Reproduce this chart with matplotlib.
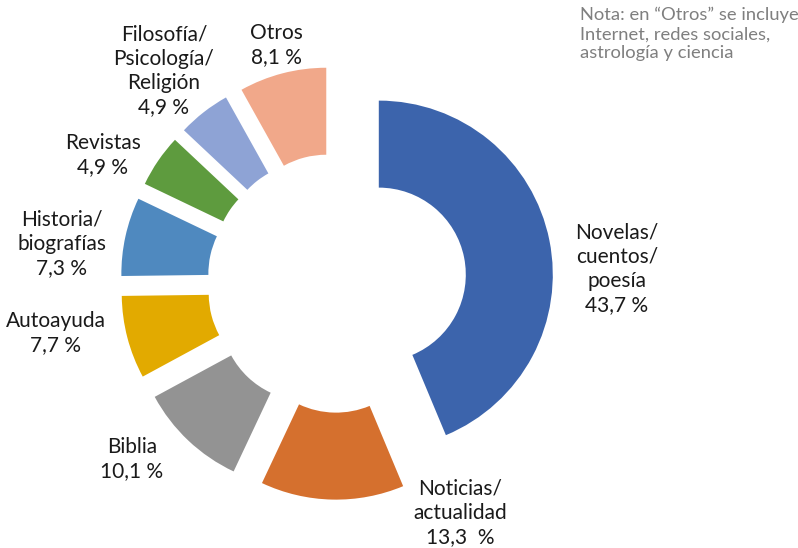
import matplotlib
matplotlib.use("Agg")
import matplotlib.pyplot as plt

# Datos (porcentaje de lectores por tipo de lectura)
categorias = ["Novelas/\ncuentos/\npoesía", "Noticias/\nactualidad", "Biblia",
              "Autoayuda", "Historia/\nbiografías", "Revistas",
              "Filosofía/\nPsicología/\nReligión", "Otros"]
valores = [43.7, 13.3, 10.1, 7.7, 7.3, 4.9, 4.9, 8.1]
etiquetas_pct = ["43,7 %", "13,3  %", "10,1 %", "7,7 %", "7,3 %", "4,9 %", "4,9 %", "8,1 %"]
colores = ["#3C64AC", "#D5702E", "#939393", "#E2AA00",
           "#4F89BF", "#5E9B3E", "#8EA3D5", "#F1A88A"]

nota = "Nota: en \u201cOtros\u201d se incluye\nInternet, redes sociales,\nastrología y ciencia"

# Disposición en píxeles (figura 798x548, centro del anillo y radio)
W, H = 798, 548
CX, CY, R = 337, 283, 174
pos_etiquetas = [(617, 269), (460, 513), (132, 459), (56, 333),
                 (62, 244), (103, 155), (164, 71), (276, 45)]


def px(x, y):
    return (x - CX) / R, (CY - y) / R


fig = plt.figure(figsize=(W / 100, H / 100), dpi=100)
ax = fig.add_axes([0, 0, 1, 1])

ax.pie(valores, colors=colores, startangle=90, counterclock=False,
       radius=1.0, explode=[0.245] * len(valores),
       wedgeprops=dict(width=0.5, linewidth=0))

for cat, pct, (x, y) in zip(categorias, etiquetas_pct, pos_etiquetas):
    tx, ty = px(x, y)
    ax.text(tx, ty, cat + "\n" + pct, ha="center", va="center",
            fontsize=15, family="Lato", color="#1a1a1a", linespacing=1.27)

nx, ny = px(580, 7)
ax.text(nx, ny, nota, ha="left", va="top", fontsize=13.2, family="Lato",
        color="#7f7f7f", linespacing=1.22)

ax.set_xlim(-CX / R, (W - CX) / R)
ax.set_ylim(-(H - CY) / R, CY / R)
ax.set_aspect("equal")
ax.axis("off")

fig.savefig("out.png", dpi=100)
